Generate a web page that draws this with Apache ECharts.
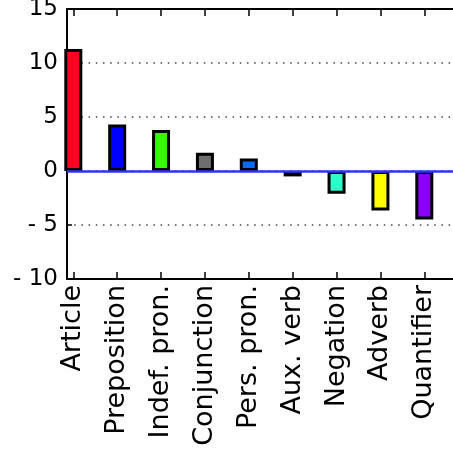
<!DOCTYPE html>
<html>
<head>
<meta charset="utf-8">
<script src="https://cdn.jsdelivr.net/npm/echarts@6/dist/echarts.min.js"></script>
<style>
  html, body { margin: 0; padding: 0; background: #fff; }
  #chart { width: 453px; height: 457px; }
</style>
</head>
<body>
<div id="chart"></div>
<script>
// categories, values and bar colours
const categories = ["Article", "Preposition", "Indef. pron.", "Conjunction", "Pers. pron.", "Aux. verb", "Negation", "Adverb", "Quantifier"];
const values = [11.3, 4.3, 3.8, 1.7, 1.15, -0.5, -2.1, -3.65, -4.5];
const barColors = ["#ff0022", "#0000ff", "#33ff00", "#6e6e6e", "#0a6aff", "#ff4a00", "#2dffcc", "#ffff00", "#8800ff"];

const tickPos = categories.map((c, i) => i);
const font = "DejaVu Sans";

const chart = echarts.init(document.getElementById("chart"));

function yLabel(v) {
  return v < 0 ? "- " + Math.abs(v) : String(v);
}

chart.setOption({
  animation: false,
  // plot runs off the right edge of the picture
  grid: { left: 67, width: 406, top: 9, bottom: 178, outerBoundsMode: "none", containLabel: false },
  xAxis: [
    {
      type: "value",
      position: "bottom",
      min: -0.1436,
      max: 9.11,
      splitLine: { show: false },
      axisLine: { onZero: false, lineStyle: { color: "#000", width: 2 } },
      axisTick: { customValues: tickPos, inside: true, length: 7, lineStyle: { color: "#000", width: 1.5 } },
      axisLabel: {
        customValues: tickPos,
        rotate: 90,
        margin: 6,
        color: "#000",
        fontFamily: font,
        fontSize: 27,
        formatter: function (v) { return categories[Math.round(v)]; }
      }
    },
    {
      type: "value",
      position: "top",
      min: -0.1436,
      max: 9.11,
      splitLine: { show: false },
      axisLine: { onZero: false, lineStyle: { color: "#000", width: 2 } },
      axisTick: { customValues: tickPos, inside: true, length: 7, lineStyle: { color: "#000", width: 1.5 } },
      axisLabel: { show: false }
    }
  ],
  yAxis: {
    type: "value",
    min: -10,
    max: 15,
    interval: 5,
    axisLine: { show: true, onZero: false, lineStyle: { color: "#000", width: 2 } },
    axisTick: { show: true, inside: true, length: 5, lineStyle: { color: "#000", width: 1.5 } },
    axisLabel: {
      margin: 9,
      color: "#000",
      fontFamily: font,
      fontSize: 23,
      formatter: yLabel
    },
    splitLine: {
      show: true,
      lineStyle: { color: "#444", width: 1.5, type: [1.5, 5.7] }
    }
  },
  series: [
    {
      type: "bar",
      xAxisIndex: 0,
      barWidth: 18,
      data: values.map(function (v, i) {
        return { value: [i, v], itemStyle: { color: barColors[i] } };
      }),
      itemStyle: { borderColor: "#000", borderWidth: 3 },
      emphasis: { disabled: true },
      markLine: {
        silent: true,
        symbol: ["none", "none"],
        label: { show: false },
        lineStyle: { color: "#3030ff", width: 2.5, type: "solid" },
        data: [{ yAxis: 0 }]
      }
    }
  ]
});
</script>
</body>
</html>
